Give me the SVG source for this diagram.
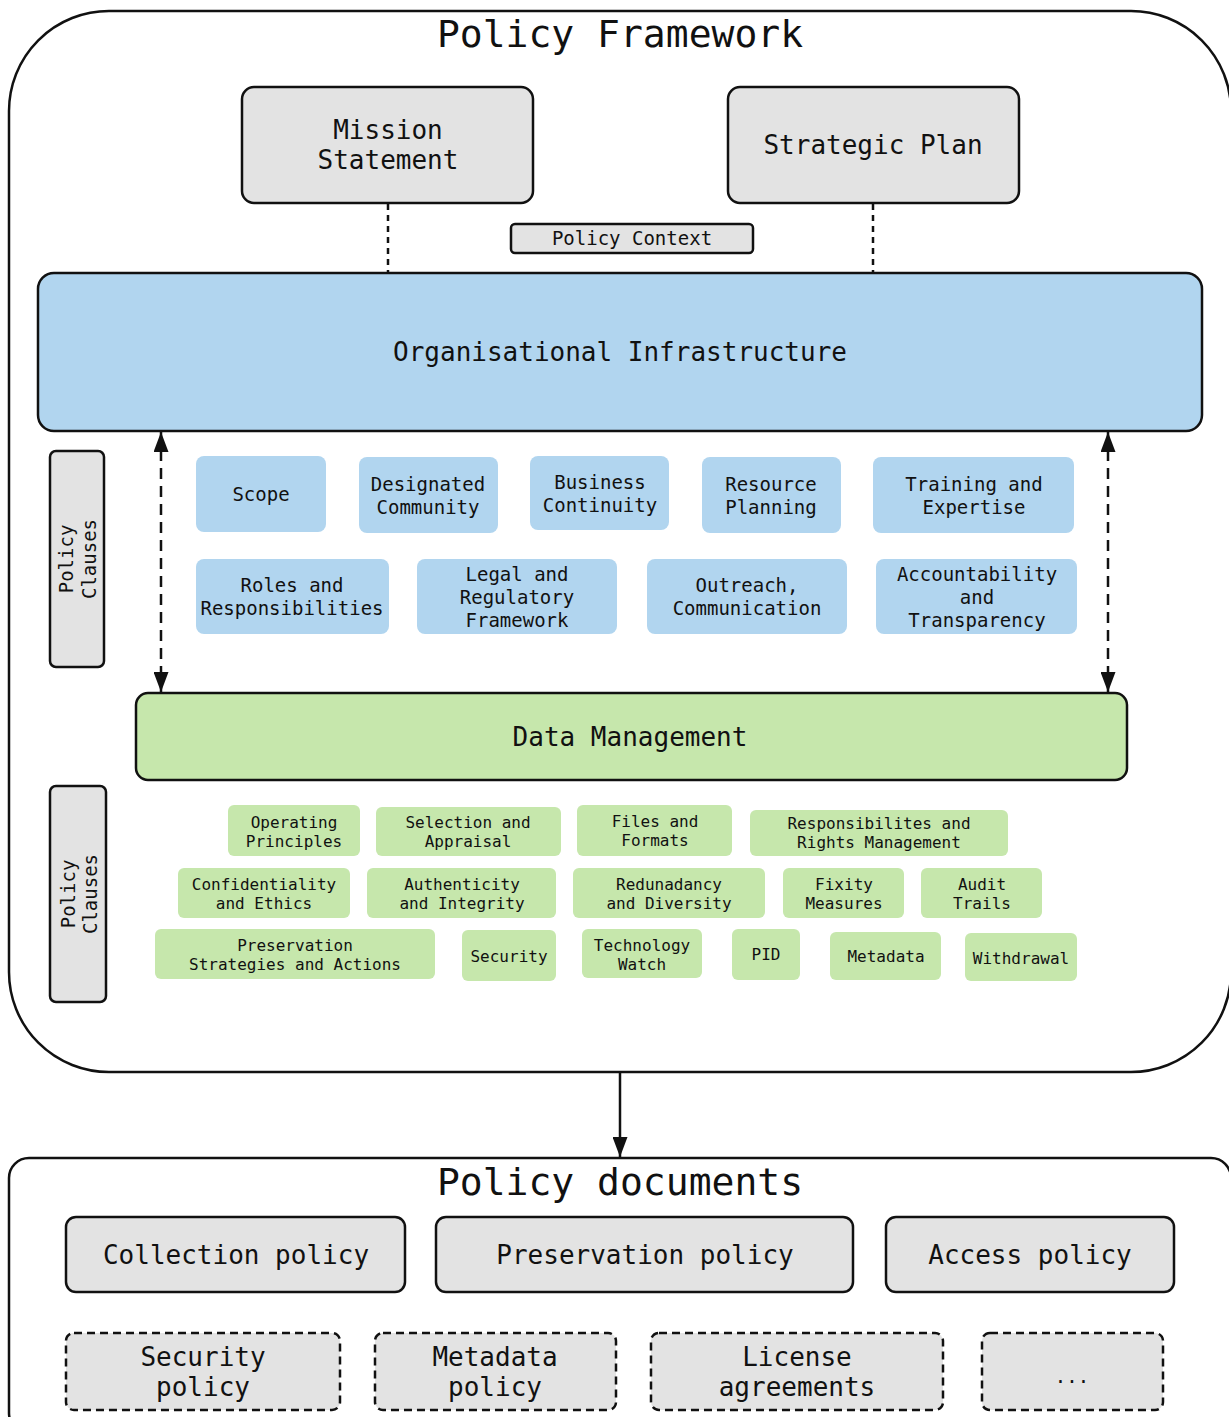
<svg xmlns="http://www.w3.org/2000/svg" width="1229" height="1417" viewBox="0 0 1229 1417">
<style>
text{font-family:"DejaVu Sans Mono","Liberation Mono",monospace;fill:#111;text-anchor:middle}
.t38{font-size:38px}
.t26{font-size:26px}
.t19{font-size:19px}
.t16{font-size:16px}
.frame{fill:#fff;stroke:#111;stroke-width:2.5}
.grey{fill:#e3e3e3;stroke:#111;stroke-width:2.5}
.dgrey{fill:#e3e3e3;stroke:#111;stroke-width:2.5;stroke-dasharray:8 5}
.blue{fill:#b1d5ef}
.green{fill:#c6e7ac}
.conn{stroke:#111;stroke-width:2.5;fill:none}
</style>
<defs>
<marker id="ah" viewBox="0 0 20 15" refX="20" refY="7.5" markerWidth="20" markerHeight="15" markerUnits="userSpaceOnUse" orient="auto-start-reverse">
<path d="M0,0 L20,7.5 L0,15 z" fill="#111"/>
</marker>
</defs>

<g id="policy-framework">
<rect class="frame" x="9" y="11" width="1222" height="1061" rx="100" ry="100"/>
<text class="t38" x="620" y="47">Policy Framework</text>
</g>

<g id="connectors">
<line class="conn" x1="388" y1="204" x2="388" y2="273" stroke-dasharray="6 5"/>
<line class="conn" x1="873" y1="204" x2="873" y2="273" stroke-dasharray="6 5"/>
<line class="conn" x1="161" y1="432" x2="161" y2="692" stroke-dasharray="11 7" marker-start="url(#ah)" marker-end="url(#ah)"/>
<line class="conn" x1="1108" y1="432" x2="1108" y2="692" stroke-dasharray="11 7" marker-start="url(#ah)" marker-end="url(#ah)"/>
<line class="conn" x1="620" y1="1073" x2="620" y2="1157" marker-end="url(#ah)"/>
</g>

<g id="mission-statement">
<rect class="grey" x="242" y="87" width="291" height="116" rx="12"/>
<text class="t26" x="388" y="139">Mission</text>
<text class="t26" x="388" y="169">Statement</text>
</g>
<g id="strategic-plan">
<rect class="grey" x="728" y="87" width="291" height="116" rx="12"/>
<text class="t26" x="873" y="154">Strategic Plan</text>
</g>
<g id="policy-context">
<rect class="grey" x="511" y="224" width="242" height="29" rx="4"/>
<text class="t19" x="632" y="245">Policy Context</text>
</g>

<g id="organisational-infrastructure">
<rect x="38" y="273" width="1164" height="158" rx="16" fill="#b1d5ef" stroke="#111" stroke-width="2.5"/>
<text class="t26" x="620" y="361">Organisational Infrastructure</text>
</g>

<g id="policy-clauses-1">
<rect class="grey" x="50" y="451" width="54" height="216" rx="6"/>
<g transform="translate(77,559) rotate(-90)">
<text class="t19" x="0" y="-4">Policy</text>
<text class="t19" x="0" y="19">Clauses</text>
</g>
</g>

<g id="oi-scope"><rect class="blue" x="196" y="456" width="130" height="76" rx="8"/><text class="t19" x="261" y="501">Scope</text></g>
<g id="oi-designated"><rect class="blue" x="359" y="457" width="139" height="76" rx="8"/><text class="t19" x="428" y="491">Designated</text><text class="t19" x="428" y="514">Community</text></g>
<g id="oi-business"><rect class="blue" x="530" y="456" width="139" height="74" rx="8"/><text class="t19" x="600" y="489">Business</text><text class="t19" x="600" y="512">Continuity</text></g>
<g id="oi-resource"><rect class="blue" x="702" y="457" width="139" height="76" rx="8"/><text class="t19" x="771" y="491">Resource</text><text class="t19" x="771" y="514">Planning</text></g>
<g id="oi-training"><rect class="blue" x="873" y="457" width="201" height="76" rx="8"/><text class="t19" x="974" y="491">Training and</text><text class="t19" x="974" y="514">Expertise</text></g>
<g id="oi-roles"><rect class="blue" x="196" y="559" width="193" height="75" rx="8"/><text class="t19" x="292" y="592">Roles and</text><text class="t19" x="292" y="615">Responsibilities</text></g>
<g id="oi-legal"><rect class="blue" x="417" y="559" width="200" height="75" rx="8"/><text class="t19" x="517" y="581">Legal and</text><text class="t19" x="517" y="604">Regulatory</text><text class="t19" x="517" y="627">Framework</text></g>
<g id="oi-outreach"><rect class="blue" x="647" y="559" width="200" height="75" rx="8"/><text class="t19" x="747" y="592">Outreach,</text><text class="t19" x="747" y="615">Communication</text></g>
<g id="oi-accountability"><rect class="blue" x="876" y="559" width="201" height="75" rx="8"/><text class="t19" x="977" y="581">Accountability</text><text class="t19" x="977" y="604">and</text><text class="t19" x="977" y="627">Transparency</text></g>

<g id="data-management">
<rect x="136" y="693" width="991" height="87" rx="12" fill="#c6e7ac" stroke="#111" stroke-width="2.5"/>
<text class="t26" x="630" y="746">Data Management</text>
</g>

<g id="policy-clauses-2">
<rect class="grey" x="50" y="786" width="56" height="216" rx="6"/>
<g transform="translate(78,894) rotate(-90)">
<text class="t19" x="0" y="-3">Policy</text>
<text class="t19" x="0" y="19">Clauses</text>
</g>
</g>

<g id="dm-operating"><rect class="green" x="228" y="805" width="132" height="51" rx="6"/><text class="t16" x="294" y="828">Operating</text><text class="t16" x="294" y="847">Principles</text></g>
<g id="dm-selection"><rect class="green" x="376" y="807" width="185" height="49" rx="6"/><text class="t16" x="468" y="828">Selection and</text><text class="t16" x="468" y="847">Appraisal</text></g>
<g id="dm-files"><rect class="green" x="577" y="805" width="155" height="51" rx="6"/><text class="t16" x="655" y="827">Files and</text><text class="t16" x="655" y="846">Formats</text></g>
<g id="dm-rights"><rect class="green" x="750" y="810" width="258" height="46" rx="6"/><text class="t16" x="879" y="829">Responsibilites and</text><text class="t16" x="879" y="848">Rights Management</text></g>
<g id="dm-confidentiality"><rect class="green" x="178" y="868" width="172" height="50" rx="6"/><text class="t16" x="264" y="890">Confidentiality</text><text class="t16" x="264" y="909">and Ethics</text></g>
<g id="dm-authenticity"><rect class="green" x="367" y="868" width="189" height="50" rx="6"/><text class="t16" x="462" y="890">Authenticity</text><text class="t16" x="462" y="909">and Integrity</text></g>
<g id="dm-redundancy"><rect class="green" x="573" y="868" width="192" height="50" rx="6"/><text class="t16" x="669" y="890">Redunadancy</text><text class="t16" x="669" y="909">and Diversity</text></g>
<g id="dm-fixity"><rect class="green" x="783" y="868" width="121" height="50" rx="6"/><text class="t16" x="844" y="890">Fixity</text><text class="t16" x="844" y="909">Measures</text></g>
<g id="dm-audit"><rect class="green" x="921" y="868" width="121" height="50" rx="6"/><text class="t16" x="982" y="890">Audit</text><text class="t16" x="982" y="909">Trails</text></g>
<g id="dm-preservation"><rect class="green" x="155" y="929" width="280" height="50" rx="6"/><text class="t16" x="295" y="951">Preservation</text><text class="t16" x="295" y="970">Strategies and Actions</text></g>
<g id="dm-security"><rect class="green" x="462" y="930" width="94" height="51" rx="6"/><text class="t16" x="509" y="962">Security</text></g>
<g id="dm-technology"><rect class="green" x="582" y="929" width="120" height="49" rx="6"/><text class="t16" x="642" y="951">Technology</text><text class="t16" x="642" y="970">Watch</text></g>
<g id="dm-pid"><rect class="green" x="732" y="929" width="68" height="51" rx="6"/><text class="t16" x="766" y="960">PID</text></g>
<g id="dm-metadata"><rect class="green" x="830" y="932" width="111" height="48" rx="6"/><text class="t16" x="886" y="962">Metadata</text></g>
<g id="dm-withdrawal"><rect class="green" x="965" y="933" width="112" height="48" rx="6"/><text class="t16" x="1021" y="964">Withdrawal</text></g>

<g id="policy-documents">
<rect class="frame" x="9" y="1158" width="1222" height="275" rx="20"/>
<text class="t38" x="620" y="1195">Policy documents</text>
</g>
<g id="collection-policy"><rect class="grey" x="66" y="1217" width="339" height="75" rx="10"/><text class="t26" x="236" y="1264">Collection policy</text></g>
<g id="preservation-policy"><rect class="grey" x="436" y="1217" width="417" height="75" rx="10"/><text class="t26" x="645" y="1264">Preservation policy</text></g>
<g id="access-policy"><rect class="grey" x="886" y="1217" width="288" height="75" rx="10"/><text class="t26" x="1030" y="1264">Access policy</text></g>
<g id="security-policy"><rect class="dgrey" x="66" y="1333" width="274" height="77" rx="8"/><text class="t26" x="203" y="1366">Security</text><text class="t26" x="203" y="1396">policy</text></g>
<g id="metadata-policy"><rect class="dgrey" x="375" y="1333" width="241" height="77" rx="8"/><text class="t26" x="495" y="1366">Metadata</text><text class="t26" x="495" y="1396">policy</text></g>
<g id="license-agreements"><rect class="dgrey" x="651" y="1333" width="292" height="77" rx="8"/><text class="t26" x="797" y="1366">License</text><text class="t26" x="797" y="1396">agreements</text></g>
<g id="more"><rect class="dgrey" x="982" y="1333" width="181" height="77" rx="8"/><text class="t19" x="1072" y="1383" fill="#333">...</text></g>
</svg>
